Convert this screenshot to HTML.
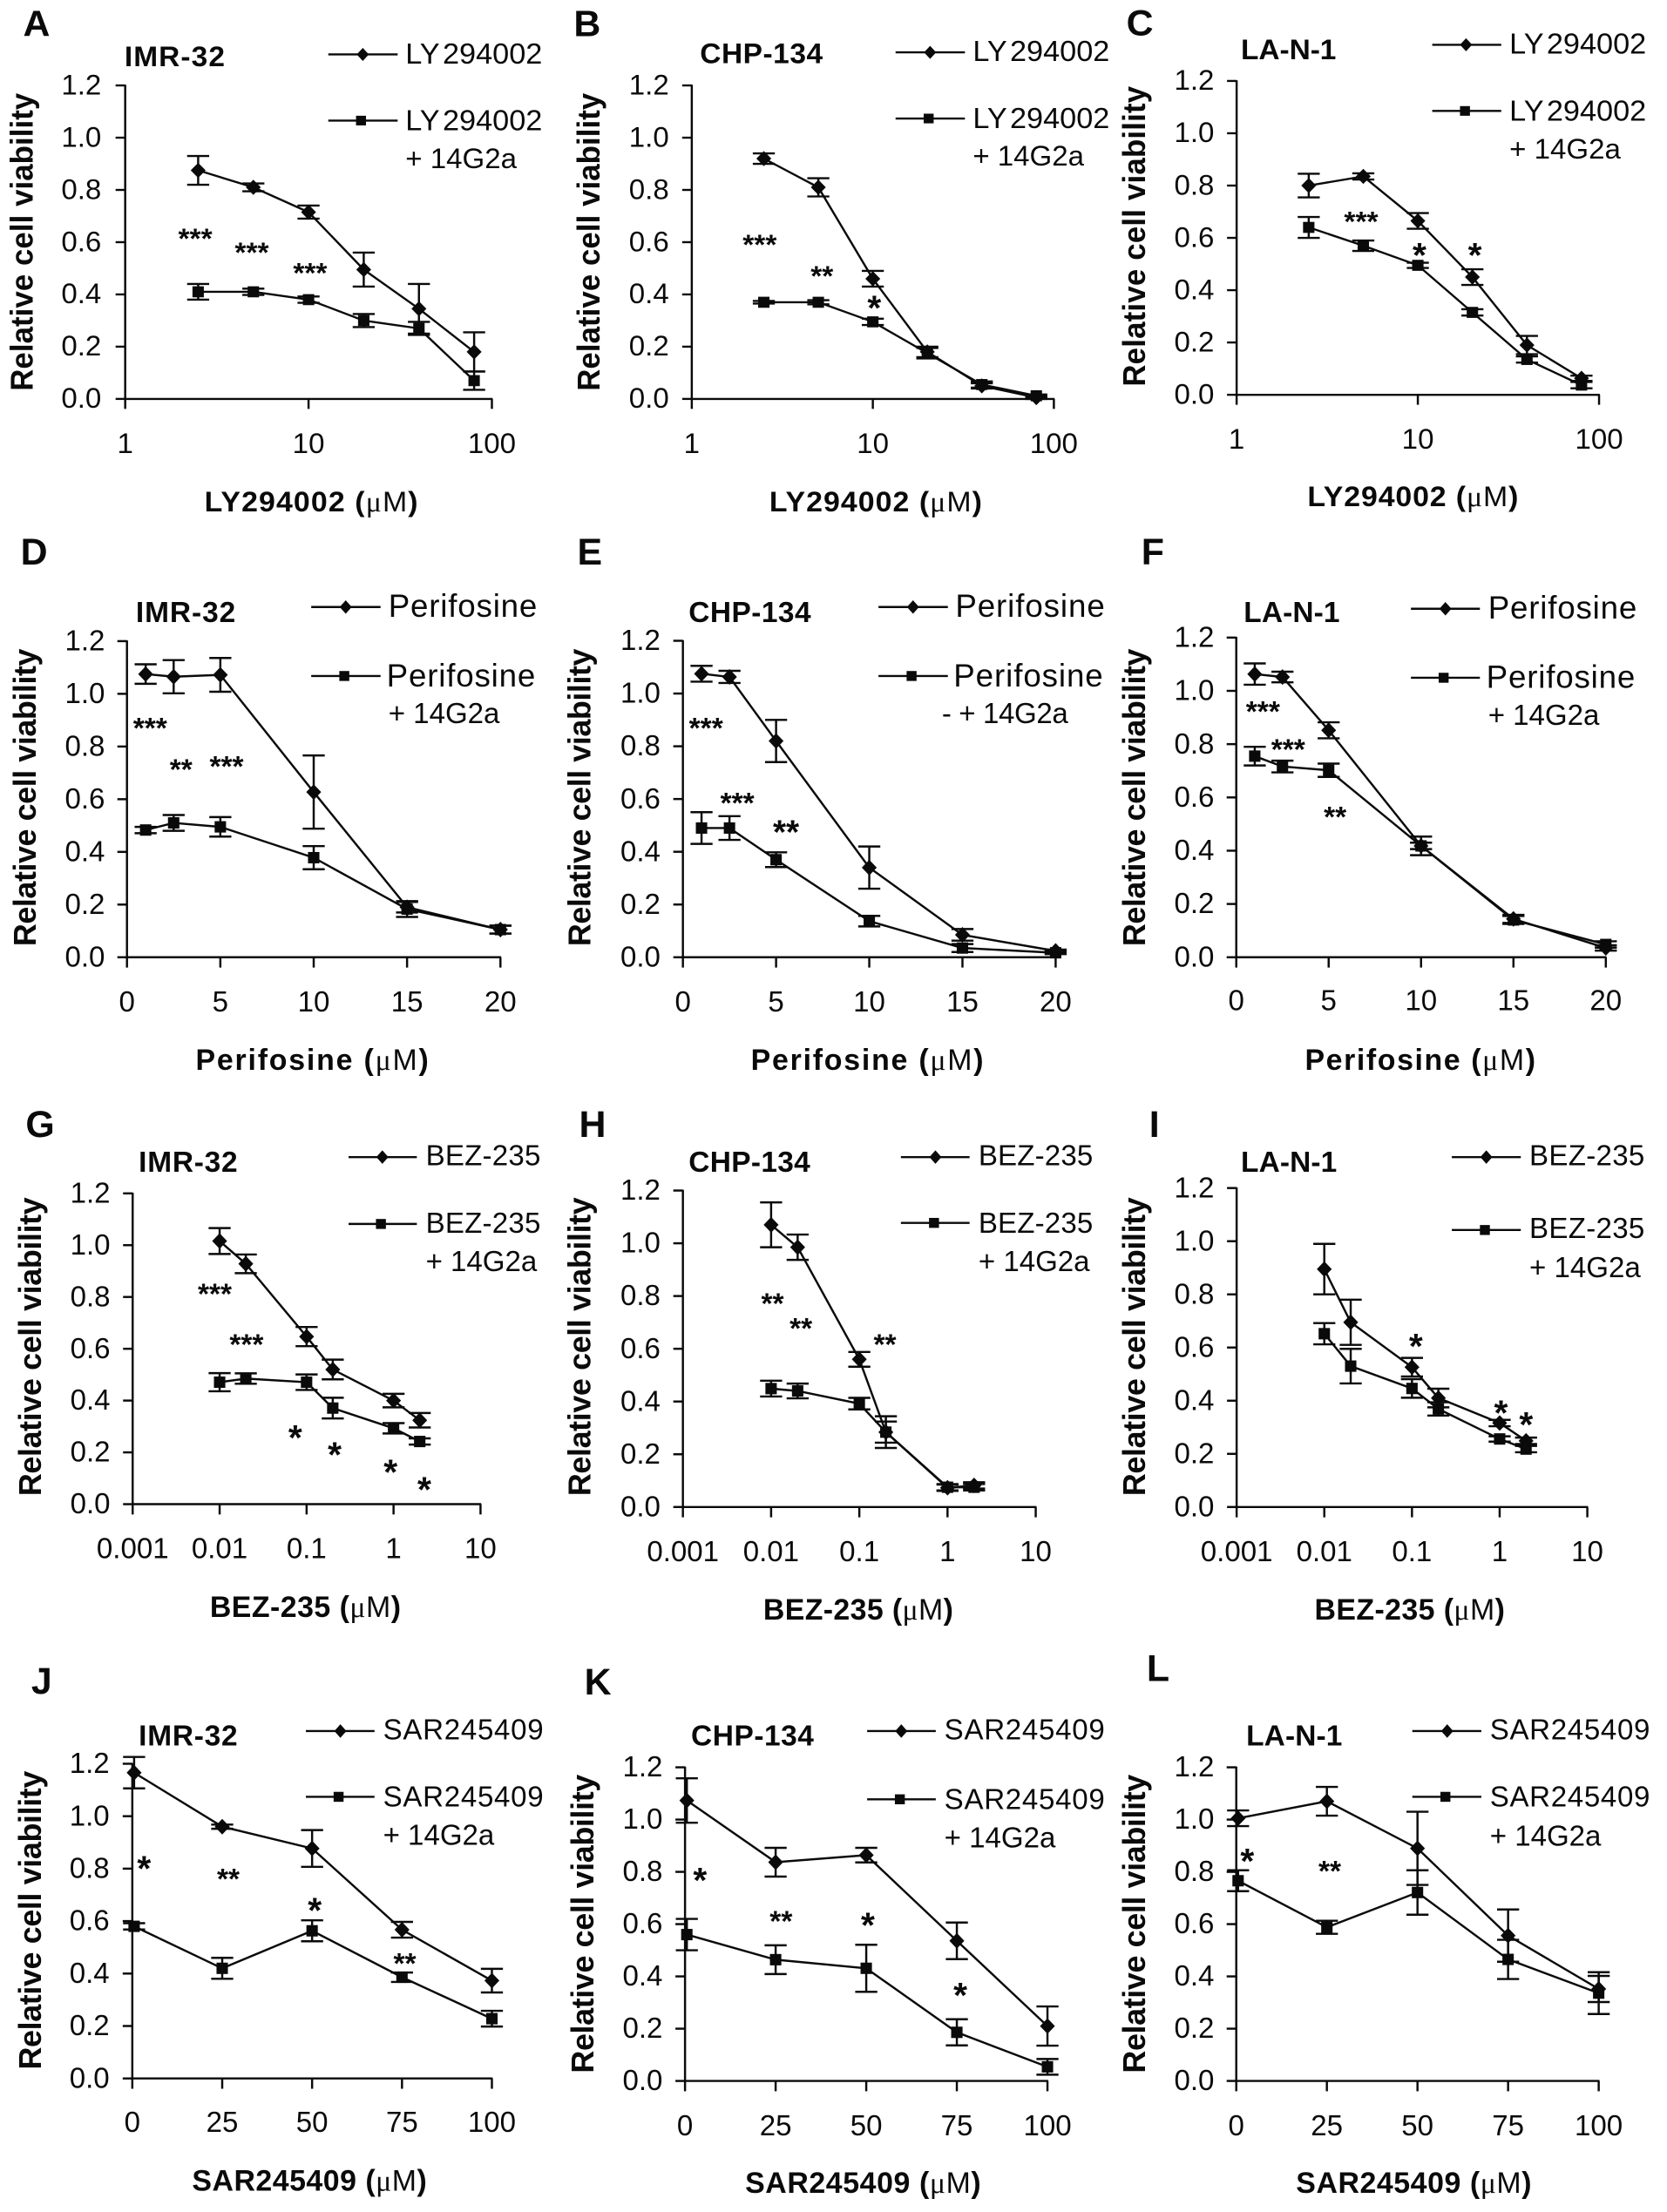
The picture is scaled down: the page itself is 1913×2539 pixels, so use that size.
<!DOCTYPE html>
<html lang="en">
<head>
<meta charset="utf-8">
<title>Relative cell viability panels A-L</title>
<style>
html,body{margin:0;padding:0;background:#fff;}
svg{display:block;}
text{font-family:"Liberation Sans",Arial,sans-serif;fill:#0a0a0a;}
.pl{font-size:105px;font-weight:700;}
.ct{font-size:82px;font-weight:700;}
.lg{font-size:81px;}
.ly{font-size:84px;}
.pf{font-size:90px;}
.xt{font-size:83px;font-weight:700;}
.yt{font-size:88px;font-weight:700;}
.st{font-weight:700;text-anchor:middle;font-size:82px;transform:translateY(-7px);}
.s1{font-size:100px;}
.mu{font-family:"Liberation Serif",serif;font-weight:400;}
.rg{font-weight:400;}
.tk{font-size:81px;}
.ln{stroke:#0a0a0a;stroke-width:6;fill:none;}
.mk{fill:#0a0a0a;}
</style>
</head>
<body>
<svg xmlns="http://www.w3.org/2000/svg" width="1913" height="2539" viewBox="0 0 1913 2539">
<rect x="0" y="0" width="1913" height="2539" fill="#fff"/>

<g id="panel-a" transform="translate(0,0) scale(0.40816,0.39541)">
<text class="pl" x="65" y="105">A</text>
<text class="ct" x="350" y="192" textLength="282">IMR-32</text>
<line class="ln" x1="923" x2="1118" y1="158" y2="158"/>
<polygon class="mk" points="1020,139 1037,158 1020,177 1003,158"/>
<text class="lg ly" x="1140" y="185">LY<tspan dx="8">294002</tspan></text>
<line class="ln" x1="923" x2="1118" y1="350" y2="350"/>
<rect class="mk" x="1001" y="336" width="28" height="28"/>
<text class="lg ly" x="1140" y="378">LY<tspan dx="8">294002</tspan></text>
<text class="lg" x="1140" y="488">+ 14G2a</text>
<text class="yt" transform="translate(92,1135) rotate(-90)" textLength="865">Relative cell viability</text>
<text class="xt" x="575" y="1485" textLength="600">LY294002 (<tspan class="mu">μ</tspan><tspan class="rg">M</tspan>)</text>
<text class="st" x="549" y="728">***</text>
<text class="st" x="708" y="768">***</text>
<text class="st" x="872" y="828">***</text>
</g>

<g id="panel-b" transform="translate(640,0) scale(0.40816,0.39541)">
<text class="pl" x="45" y="105">B</text>
<text class="ct" x="400" y="183" textLength="345">CHP-134</text>
<line class="ln" x1="950" x2="1145" y1="152" y2="152"/>
<polygon class="mk" points="1047,133 1064,152 1047,171 1030,152"/>
<text class="lg ly" x="1167" y="177">LY<tspan dx="8">294002</tspan></text>
<line class="ln" x1="950" x2="1145" y1="344" y2="344"/>
<rect class="mk" x="1029" y="330" width="28" height="28"/>
<text class="lg ly" x="1167" y="372">LY<tspan dx="8">294002</tspan></text>
<text class="lg" x="1167" y="480">+ 14G2a</text>
<text class="yt" transform="translate(118,1135) rotate(-90)" textLength="865">Relative cell viability</text>
<text class="xt" x="595" y="1485" textLength="598">LY294002 (<tspan class="mu">μ</tspan><tspan class="rg">M</tspan>)</text>
<text class="st" x="568" y="746">***</text>
<text class="st" x="743" y="836">**</text>
<text class="st s1" x="890" y="935">*</text>
</g>

<g id="panel-c" transform="translate(1273,0) scale(0.40816,0.39541)">
<text class="pl" x="48" y="103">C</text>
<text class="ct" x="370" y="172" textLength="268">LA-N-1</text>
<line class="ln" x1="908" x2="1102" y1="130" y2="130"/>
<polygon class="mk" points="1003,111 1020,130 1003,149 986,130"/>
<text class="lg ly" x="1125" y="155">LY<tspan dx="8">294002</tspan></text>
<line class="ln" x1="908" x2="1102" y1="322" y2="322"/>
<rect class="mk" x="986" y="308" width="28" height="28"/>
<text class="lg ly" x="1125" y="350">LY<tspan dx="8">294002</tspan></text>
<text class="lg" x="1125" y="460">+ 14G2a</text>
<text class="yt" transform="translate(100,1122) rotate(-90)" textLength="872">Relative cell viability</text>
<text class="xt" x="557" y="1470" textLength="593">LY294002 (<tspan class="mu">μ</tspan><tspan class="rg">M</tspan>)</text>
<text class="st" x="708" y="678">***</text>
<text class="st s1" x="872" y="782">*</text>
<text class="st s1" x="1028" y="782">*</text>
</g>

<g id="panel-d" transform="translate(0,620) scale(0.40816)">
<text class="pl" x="58" y="68">D</text>
<text class="ct" x="382" y="230" textLength="280">IMR-32</text>
<line class="ln" x1="875" x2="1070" y1="188" y2="188"/>
<polygon class="mk" points="972,169 989,188 972,207 955,188"/>
<text class="lg pf" x="1092" y="215" textLength="418">Perifosine</text>
<line class="ln" x1="875" x2="1070" y1="382" y2="382"/>
<rect class="mk" x="954" y="368" width="28" height="28"/>
<text class="lg pf" x="1087" y="412" textLength="418">Perifosine</text>
<text class="lg" x="1092" y="515">+ 14G2a</text>
<text class="yt" transform="translate(100,1142) rotate(-90)" textLength="837">Relative cell viability</text>
<text class="xt" x="550" y="1490" textLength="655">Perifosine (<tspan class="mu">μ</tspan><tspan class="rg">M</tspan>)</text>
<text class="st" x="422" y="563">***</text>
<text class="st" x="509" y="679">**</text>
<text class="st" x="637" y="671">***</text>
</g>

<g id="panel-e" transform="translate(640,620) scale(0.40816)">
<text class="pl" x="55" y="68">E</text>
<text class="ct" x="368" y="230" textLength="344">CHP-134</text>
<line class="ln" x1="902" x2="1097" y1="188" y2="188"/>
<polygon class="mk" points="999,169 1016,188 999,207 982,188"/>
<text class="lg pf" x="1118" y="215" textLength="420">Perifosine</text>
<line class="ln" x1="902" x2="1097" y1="382" y2="382"/>
<rect class="mk" x="981" y="368" width="28" height="28"/>
<text class="lg pf" x="1113" y="412" textLength="420">Perifosine</text>
<text class="lg" x="1080" y="515" textLength="355">- + 14G2a</text>
<text class="yt" transform="translate(92,1142) rotate(-90)" textLength="837">Relative cell viability</text>
<text class="xt" x="543" y="1490" textLength="654">Perifosine (<tspan class="mu">μ</tspan><tspan class="rg">M</tspan>)</text>
<text class="st" x="417" y="563">***</text>
<text class="st" x="505" y="774">***</text>
<text class="st" x="642" y="861" style="font-size:95px">**</text>
</g>

<g id="panel-f" transform="translate(1273,620) scale(0.40816)">
<text class="pl" x="90" y="68">F</text>
<text class="ct" x="378" y="230" textLength="270">LA-N-1</text>
<line class="ln" x1="848" x2="1042" y1="193" y2="193"/>
<polygon class="mk" points="945,174 962,193 945,212 928,193"/>
<text class="lg pf" x="1065" y="220" textLength="418">Perifosine</text>
<line class="ln" x1="848" x2="1042" y1="387" y2="387"/>
<rect class="mk" x="926" y="373" width="28" height="28"/>
<text class="lg pf" x="1060" y="415" textLength="418">Perifosine</text>
<text class="lg" x="1065" y="520">+ 14G2a</text>
<text class="yt" transform="translate(100,1142) rotate(-90)" textLength="837">Relative cell viability</text>
<text class="xt" x="550" y="1490" textLength="648">Perifosine (<tspan class="mu">μ</tspan><tspan class="rg">M</tspan>)</text>
<text class="st" x="432" y="516">***</text>
<text class="st" x="503" y="623">***</text>
<text class="st" x="635" y="813">**</text>
</g>

<g id="panel-g" transform="translate(0,1260) scale(0.40816)">
<text class="pl" x="72" y="110">G</text>
<text class="ct" x="390" y="208" textLength="278">IMR-32</text>
<line class="ln" x1="980" x2="1172" y1="167" y2="167"/>
<polygon class="mk" points="1075,148 1092,167 1075,186 1058,167"/>
<text class="lg" x="1197" y="190" textLength="323">BEZ-235</text>
<line class="ln" x1="980" x2="1172" y1="355" y2="355"/>
<rect class="mk" x="1057" y="341" width="28" height="28"/>
<text class="lg" x="1197" y="380" textLength="323">BEZ-235</text>
<text class="lg" x="1197" y="487">+ 14G2a</text>
<text class="yt" transform="translate(115,1120) rotate(-90)" textLength="840">Relative cell viability</text>
<text class="xt" x="590" y="1460" textLength="537">BEZ-235 (<tspan class="mu">μ</tspan><tspan class="rg">M</tspan>)</text>
<text class="st" x="604" y="586">***</text>
<text class="st" x="693" y="728">***</text>
<text class="st s1" x="830" y="997">*</text>
<text class="st s1" x="941" y="1045">*</text>
<text class="st s1" x="1098" y="1093">*</text>
<text class="st s1" x="1193" y="1142">*</text>
</g>

<g id="panel-h" transform="translate(640,1260) scale(0.40816)">
<text class="pl" x="60" y="110">H</text>
<text class="ct" x="368" y="208" textLength="342">CHP-134</text>
<line class="ln" x1="965" x2="1158" y1="167" y2="167"/>
<polygon class="mk" points="1062,148 1079,167 1062,186 1045,167"/>
<text class="lg" x="1183" y="190" textLength="322">BEZ-235</text>
<line class="ln" x1="965" x2="1158" y1="352" y2="352"/>
<rect class="mk" x="1044" y="338" width="28" height="28"/>
<text class="lg" x="1183" y="380" textLength="322">BEZ-235</text>
<text class="lg" x="1183" y="487">+ 14G2a</text>
<text class="yt" transform="translate(92,1120) rotate(-90)" textLength="840">Relative cell viability</text>
<text class="xt" x="578" y="1468" textLength="534">BEZ-235 (<tspan class="mu">μ</tspan><tspan class="rg">M</tspan>)</text>
<text class="st" x="604" y="613">**</text>
<text class="st" x="684" y="683">**</text>
<text class="st" x="920" y="728">**</text>
</g>

<g id="panel-i" transform="translate(1273,1260) scale(0.40816)">
<text class="pl" x="112" y="110">I</text>
<text class="ct" x="370" y="208" textLength="270">LA-N-1</text>
<line class="ln" x1="963" x2="1157" y1="167" y2="167"/>
<polygon class="mk" points="1060,148 1077,167 1060,186 1043,167"/>
<text class="lg" x="1181" y="190" textLength="324">BEZ-235</text>
<line class="ln" x1="963" x2="1157" y1="372" y2="372"/>
<rect class="mk" x="1042" y="358" width="28" height="28"/>
<text class="lg" x="1181" y="395" textLength="324">BEZ-235</text>
<text class="lg" x="1181" y="505">+ 14G2a</text>
<text class="yt" transform="translate(100,1120) rotate(-90)" textLength="840">Relative cell viability</text>
<text class="xt" x="577" y="1468" textLength="535">BEZ-235 (<tspan class="mu">μ</tspan><tspan class="rg">M</tspan>)</text>
<text class="st s1" x="862" y="740">*</text>
<text class="st s1" x="1101" y="927">*</text>
<text class="st s1" x="1172" y="960">*</text>
</g>

<g id="panel-j" transform="translate(0,1900) scale(0.40816)">
<text class="pl" x="88" y="108">J</text>
<text class="ct" x="390" y="253" textLength="278">IMR-32</text>
<line class="ln" x1="860" x2="1053" y1="213" y2="213"/>
<polygon class="mk" points="957,194 974,213 957,232 940,213"/>
<text class="lg" x="1077" y="237" textLength="451">SAR245409</text>
<line class="ln" x1="860" x2="1053" y1="398" y2="398"/>
<rect class="mk" x="938" y="384" width="28" height="28"/>
<text class="lg" x="1077" y="425" textLength="451">SAR245409</text>
<text class="lg" x="1077" y="533">+ 14G2a</text>
<text class="yt" transform="translate(115,1165) rotate(-90)" textLength="840">Relative cell viability</text>
<text class="xt" x="540" y="1505" textLength="660">SAR245409 (<tspan class="mu">μ</tspan><tspan class="rg">M</tspan>)</text>
<text class="st s1" x="405" y="640">*</text>
<text class="st" x="642" y="664">**</text>
<text class="st s1" x="885" y="758">*</text>
<text class="st" x="1138" y="901">**</text>
</g>

<g id="panel-k" transform="translate(640,1900) scale(0.40816)">
<text class="pl" x="75" y="110">K</text>
<text class="ct" x="375" y="253" textLength="345">CHP-134</text>
<line class="ln" x1="870" x2="1063" y1="213" y2="213"/>
<polygon class="mk" points="966,194 983,213 966,232 949,213"/>
<text class="lg" x="1087" y="237" textLength="451">SAR245409</text>
<line class="ln" x1="870" x2="1063" y1="405" y2="405"/>
<rect class="mk" x="948" y="391" width="28" height="28"/>
<text class="lg" x="1087" y="432" textLength="451">SAR245409</text>
<text class="lg" x="1087" y="540">+ 14G2a</text>
<text class="yt" transform="translate(100,1175) rotate(-90)" textLength="840">Relative cell viability</text>
<text class="xt" x="527" y="1512" textLength="663">SAR245409 (<tspan class="mu">μ</tspan><tspan class="rg">M</tspan>)</text>
<text class="st s1" x="400" y="673">*</text>
<text class="st" x="628" y="783">**</text>
<text class="st s1" x="872" y="800">*</text>
<text class="st s1" x="1132" y="997">*</text>
</g>

<g id="panel-l" transform="translate(1273,1900) scale(0.40816)">
<text class="pl" x="105" y="72">L</text>
<text class="ct" x="385" y="253" textLength="270">LA-N-1</text>
<line class="ln" x1="852" x2="1046" y1="213" y2="213"/>
<polygon class="mk" points="950,194 967,213 950,232 933,213"/>
<text class="lg" x="1070" y="237" textLength="450">SAR245409</text>
<line class="ln" x1="852" x2="1046" y1="398" y2="398"/>
<rect class="mk" x="931" y="384" width="28" height="28"/>
<text class="lg" x="1070" y="425" textLength="450">SAR245409</text>
<text class="lg" x="1070" y="535">+ 14G2a</text>
<text class="yt" transform="translate(100,1175) rotate(-90)" textLength="840">Relative cell viability</text>
<text class="xt" x="525" y="1512" textLength="662">SAR245409 (<tspan class="mu">μ</tspan><tspan class="rg">M</tspan>)</text>
<text class="st s1" x="388" y="620">*</text>
<text class="st" x="620" y="641">**</text>
</g>
</svg>

<script>
// Doses (x categories)
const dosesLY = [2.5, 5, 10, 20, 40, 80];
const dosesPerifosine = [1, 2.5, 5, 10, 15, 20];
const dosesBEZ = [0.01, 0.02, 0.1, 0.2, 1, 2];
const dosesSAR = [0.5, 25, 50, 75, 100];

// Tick labels
const yTickValues = [0, 0.2, 0.4, 0.6, 0.8, 1.0, 1.2];
const yTickLabels = ['0.0', '0.2', '0.4', '0.6', '0.8', '1.0', '1.2'];
const xTicksLY = [1, 10, 100];
const xTicksPerifosine = [0, 5, 10, 15, 20];
const xTicksBEZ = [0.001, 0.01, 0.1, 1, 10];
const xTicksSAR = [0, 25, 50, 75, 100];

// Panel A
const aSingle = [0.875, 0.81, 0.715, 0.495, 0.345, 0.18];
const aSingleErr = [0.055, 0.015, 0.025, 0.065, 0.095, 0.075];
const aCombo = [0.41, 0.41, 0.38, 0.30, 0.27, 0.07];
const aComboErr = [0.03, 0.012, 0.012, 0.025, 0.025, 0.035];
// Panel B
const bSingle = [0.92, 0.81, 0.46, 0.18, 0.05, 0.005];
const bSingleErr = [0.02, 0.035, 0.03, 0.02, 0.01, 0.005];
const bCombo = [0.37, 0.37, 0.295, 0.175, 0.055, 0.012];
const bComboErr = [0.005, 0.008, 0.012, 0.02, 0.012, 0.005];
// Panel C
const cSingle = [0.80, 0.835, 0.665, 0.45, 0.19, 0.063];
const cSingleErr = [0.045, 0.012, 0.03, 0.03, 0.035, 0.01];
const cCombo = [0.64, 0.57, 0.495, 0.315, 0.135, 0.037];
const cComboErr = [0.04, 0.02, 0.01, 0.012, 0.012, 0.012];
// Panel D
const dSingle = [1.075, 1.065, 1.072, 0.627, 0.19, 0.105];
const dSingleErr = [0.037, 0.063, 0.064, 0.139, 0.02, 0.015];
const dCombo = [0.483, 0.51, 0.495, 0.378, 0.183, 0.105];
const dComboErr = [0.012, 0.03, 0.037, 0.044, 0.03, 0.015];
// Panel E
const eSingle = [1.075, 1.063, 0.82, 0.34, 0.085, 0.024];
const eSingleErr = [0.03, 0.023, 0.08, 0.08, 0.022, 0.005];
const eCombo = [0.49, 0.49, 0.37, 0.137, 0.035, 0.017];
const eComboErr = [0.06, 0.045, 0.028, 0.02, 0.015, 0.005];
// Panel F
const fSingle = [1.063, 1.052, 0.852, 0.418, 0.144, 0.035];
const fSingleErr = [0.04, 0.02, 0.03, 0.035, 0.015, 0.01];
const fCombo = [0.755, 0.716, 0.702, 0.418, 0.14, 0.048];
const fComboErr = [0.035, 0.022, 0.025, 0.012, 0.015, 0.012];
// Panel G
const gSingle = [1.016, 0.928, 0.647, 0.52, 0.40, 0.324];
const gSingleErr = [0.05, 0.036, 0.037, 0.038, 0.026, 0.028];
const gCombo = [0.471, 0.485, 0.471, 0.371, 0.293, 0.242];
const gComboErr = [0.035, 0.02, 0.03, 0.04, 0.02, 0.012];
// Panel H
const hSingle = [1.07, 0.985, 0.56, 0.284, 0.073, 0.082];
const hSingleErr = [0.085, 0.048, 0.028, 0.06, 0.012, 0.012];
const hCombo = [0.449, 0.44, 0.392, 0.284, 0.075, 0.075];
const hComboErr = [0.03, 0.028, 0.022, 0.04, 0.012, 0.012];
// Panel I
const iSingle = [0.895, 0.695, 0.526, 0.41, 0.316, 0.249];
const iSingleErr = [0.095, 0.085, 0.035, 0.035, 0.012, 0.012];
const iCombo = [0.652, 0.53, 0.446, 0.369, 0.256, 0.218];
const iComboErr = [0.04, 0.065, 0.035, 0.025, 0.01, 0.012];
// Panel J
const jSingle = [1.166, 0.96, 0.877, 0.567, 0.373];
const jSingleErr = [0.06, 0.008, 0.07, 0.03, 0.045];
const jCombo = [0.58, 0.42, 0.563, 0.386, 0.228];
const jComboErr = [0.012, 0.04, 0.04, 0.018, 0.03];
// Panel K
const kSingle = [1.073, 0.837, 0.864, 0.536, 0.21];
const kSingleErr = [0.085, 0.055, 0.028, 0.07, 0.075];
const kCombo = [0.56, 0.464, 0.431, 0.186, 0.054];
const kComboErr = [0.06, 0.055, 0.09, 0.05, 0.03];
// Panel L
const lSingle = [1.005, 1.07, 0.89, 0.556, 0.352];
const lSingleErr = [0.03, 0.055, 0.14, 0.1, 0.05];
const lCombo = [0.766, 0.588, 0.721, 0.465, 0.336];
const lComboErr = [0.04, 0.025, 0.085, 0.075, 0.08];

// Panel frames (not data): plot box in panel units
const frames = [
  {id:'a', left:352, right:1383, top:248, bottom:1158, labelY:1315, yLabelRight:285, kind:'log', doses:dosesLY, ticks:xTicksLY, min:1, max:100, single:aSingle, singleErr:aSingleErr, combo:aCombo, comboErr:aComboErr},
  {id:'b', left:377, right:1395, top:248, bottom:1158, labelY:1315, yLabelRight:313, kind:'log', doses:dosesLY, ticks:xTicksLY, min:1, max:100, single:bSingle, singleErr:bSingleErr, combo:bCombo, comboErr:bComboErr},
  {id:'c', left:358, right:1377, top:235, bottom:1146, labelY:1302, yLabelRight:295, kind:'log', doses:dosesLY, ticks:xTicksLY, min:1, max:100, single:cSingle, singleErr:cSingleErr, combo:cCombo, comboErr:cComboErr},
  {id:'d', left:357, right:1407, top:284, bottom:1173, labelY:1325, yLabelRight:295, kind:'lin', doses:dosesPerifosine, ticks:xTicksPerifosine, min:0, max:20, single:dSingle, singleErr:dSingleErr, combo:dCombo, comboErr:dComboErr},
  {id:'e', left:352, right:1400, top:283, bottom:1173, labelY:1325, yLabelRight:289, kind:'lin', doses:dosesPerifosine, ticks:xTicksPerifosine, min:0, max:20, single:eSingle, singleErr:eSingleErr, combo:eCombo, comboErr:eComboErr},
  {id:'f', left:357, right:1396, top:274, bottom:1173, labelY:1322, yLabelRight:295, kind:'lin', doses:dosesPerifosine, ticks:xTicksPerifosine, min:0, max:20, single:fSingle, singleErr:fSingleErr, combo:fCombo, comboErr:fComboErr},
  {id:'g', left:373, right:1351, top:269, bottom:1143, labelY:1295, yLabelRight:310, kind:'log', doses:dosesBEZ, ticks:xTicksBEZ, min:0.001, max:10, single:gSingle, singleErr:gSingleErr, combo:gCombo, comboErr:gComboErr},
  {id:'h', left:352, right:1344, top:261, bottom:1151, labelY:1303, yLabelRight:289, kind:'log', doses:dosesBEZ, ticks:xTicksBEZ, min:0.001, max:10, single:hSingle, singleErr:hSingleErr, combo:hCombo, comboErr:hComboErr},
  {id:'i', left:358, right:1344, top:254, bottom:1151, labelY:1303, yLabelRight:295, kind:'log', doses:dosesBEZ, ticks:xTicksBEZ, min:0.001, max:10, single:iSingle, singleErr:iSingleErr, combo:iCombo, comboErr:iComboErr},
  {id:'j', left:372, right:1383, top:305, bottom:1190, labelY:1340, yLabelRight:308, kind:'lin', doses:dosesSAR, ticks:xTicksSAR, min:0, max:100, single:jSingle, singleErr:jSingleErr, combo:jCombo, comboErr:jComboErr},
  {id:'k', left:358, right:1377, top:315, bottom:1197, labelY:1350, yLabelRight:295, kind:'lin', doses:dosesSAR, ticks:xTicksSAR, min:0, max:100, single:kSingle, singleErr:kSingleErr, combo:kCombo, comboErr:kComboErr},
  {id:'l', left:357, right:1376, top:315, bottom:1197, labelY:1350, yLabelRight:295, kind:'lin', doses:dosesSAR, ticks:xTicksSAR, min:0, max:100, single:lSingle, singleErr:lSingleErr, combo:lCombo, comboErr:lComboErr}
];

const NS = 'http://www.w3.org/2000/svg';
const Y_MAX = 1.2;
const CAP_HALF = 31;

function shape(tag, attrs, parent) {
  const node = document.createElementNS(NS, tag);
  for (const key in attrs) node.setAttribute(key, attrs[key]);
  parent.appendChild(node);
  return node;
}

function xScale(f) {
  if (f.kind === 'log') {
    const a = Math.log10(f.min), b = Math.log10(f.max);
    return function (d) { return f.left + (Math.log10(d) - a) / (b - a) * (f.right - f.left); };
  }
  return function (d) { return f.left + (d - f.min) / (f.max - f.min) * (f.right - f.left); };
}
function yScale(f) {
  return function (v) { return f.bottom - v / Y_MAX * (f.bottom - f.top); };
}

function drawAxes(f, g, X, Y) {
  let el = shape('line', {class:'ln', x1:f.left, x2:f.left, y1:f.top - 2, y2:f.bottom + 2}, g);
  
  
  el = shape('line', {class:'ln', x1:f.left, x2:f.right + 2, y1:f.bottom, y2:f.bottom}, g);
  
  
  yTickValues.forEach(function (v, i) {
    const tick = shape('line', {class:'ln', x1:f.left - 27, x2:f.left, y1:Y(v), y2:Y(v)}, g);
    
    
    const label = shape('text', {class:'tk', x:f.yLabelRight, y:Y(v) + 26, 'text-anchor':'end'}, g);
    label.textContent = yTickLabels[i];
    
    
  });
  f.ticks.forEach(function (t) {
    const tick = shape('line', {class:'ln', x1:X(t), x2:X(t), y1:f.bottom, y2:f.bottom + 29}, g);
    
    
    const label = shape('text', {class:'tk', x:X(t), y:f.labelY, 'text-anchor':'middle'}, g);
    label.textContent = String(t);
    
    
  });
}

function drawSeries(f, g, X, Y, values, errors, marker, name) {
  values.forEach(function (v, i) {
    const px = X(f.doses[i]);
    const hi = Y(v + errors[i]), lo = Y(v - errors[i]);
    const stem = shape('line', {class:'ln', x1:px, x2:px, y1:hi, y2:lo}, g);
    
    
    const capTop = shape('line', {class:'ln', x1:px - CAP_HALF, x2:px + CAP_HALF, y1:hi, y2:hi}, g);
    
    
    const capBottom = shape('line', {class:'ln', x1:px - CAP_HALF, x2:px + CAP_HALF, y1:lo, y2:lo}, g);
    
    
  });
  const pts = values.map(function (v, i) { return X(f.doses[i]).toFixed(1) + ',' + Y(v).toFixed(1); }).join(' ');
  const path = shape('polyline', {class:'ln', points:pts}, g);
  
  
  values.forEach(function (v, i) {
    const px = X(f.doses[i]), py = Y(v);
    let mark;
    if (marker === 'diamond') {
      mark = shape('polygon', {class:'mk', points:[px, py - 22, px + 21, py, px, py + 22, px - 21, py].join(' ')}, g);
    } else {
      mark = shape('rect', {class:'mk', x:px - 16, y:py - 16, width:32, height:32}, g);
    }
    
    
  });
}

frames.forEach(function (f) {
  const g = document.getElementById('panel-' + f.id);
  const X = xScale(f), Y = yScale(f);
  drawAxes(f, g, X, Y);
  drawSeries(f, g, X, Y, f.single, f.singleErr, 'diamond', 'single-agent');
  drawSeries(f, g, X, Y, f.combo, f.comboErr, 'square', 'combination');
});
</script>
</body>
</html>
